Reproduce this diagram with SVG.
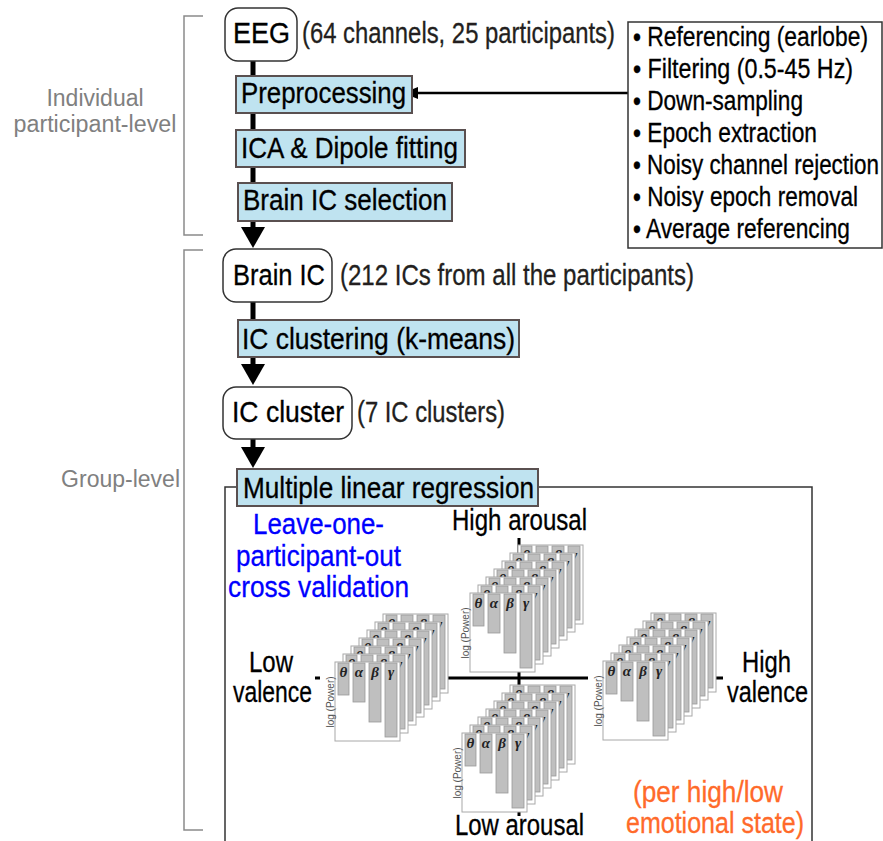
<svg xmlns="http://www.w3.org/2000/svg" xmlns:xlink="http://www.w3.org/1999/xlink" width="883" height="841" viewBox="0 0 883 841">
<style>
.t{font-family:"Liberation Sans Narrow","Liberation Sans",Arial,sans-serif;font-size:29px;fill:#000;stroke:#000;stroke-width:0.3}
.ann{fill:#231f20;stroke:#231f20}
.bul{font-size:27px}
.side{font-family:"Liberation Sans",Arial,sans-serif;font-size:23px;fill:#808080}
.blue{fill:#0000ff;stroke:#0000ff}
.orange{fill:#ff6a2a;stroke:#ff6a2a}
.rnode{fill:#fff;stroke:#333;stroke-width:1.5}
.bnode{fill:#bfe3f0;stroke:#5a5050;stroke-width:2}
.bracket{fill:none;stroke:#8a8a8a;stroke-width:1.5}
.thick{fill:none;stroke:#000;stroke-width:5}
.thin{fill:none;stroke:#000;stroke-width:2.5}
.axis{fill:none;stroke:#000;stroke-width:3}
.frame{fill:none;stroke:#333;stroke-width:1.5}
.card{fill:#fff;stroke:#a8a8a8;stroke-width:1}
.bar{fill:#bfbfbf;stroke:#9a9a9a;stroke-width:0.8}
.gr{font-family:"Liberation Serif","DejaVu Serif",serif;font-style:italic;font-weight:bold;font-size:15px;fill:#222;text-anchor:middle}
.lp{font-family:"Liberation Sans",Arial,sans-serif;font-size:10px;fill:#555;text-anchor:middle}
</style>
<defs>
<marker id="bigArrow" markerUnits="userSpaceOnUse" markerWidth="22" markerHeight="26" viewBox="0 0 22 26" refX="9" refY="13" orient="auto">
<path d="M0,1 L21,13 L0,25 z" fill="#000"/>
</marker>
<marker id="smallArrow" markerUnits="userSpaceOnUse" markerWidth="16" markerHeight="14" viewBox="0 0 16 14" refX="3" refY="7" orient="auto">
<path d="M0,1 L15,7 L0,13 z" fill="#000"/>
</marker>
<g id="card">
<rect class="card" x="0" y="0" width="65" height="79"/>
<rect class="bar" x="3" y="1" width="11" height="32"/>
<rect class="bar" x="18" y="1" width="12" height="39"/>
<rect class="bar" x="34" y="1" width="12" height="59"/>
<rect class="bar" x="50" y="1" width="12" height="74"/>
<text class="gr" x="8.5" y="15">θ</text>
<text class="gr" x="24" y="15">α</text>
<text class="gr" x="40" y="15">β</text>
<text class="gr" x="56" y="15">γ</text>
</g>
<g id="stack">
<use xlink:href="#card" x="48" y="-48"/>
<use xlink:href="#card" x="40" y="-40"/>
<use xlink:href="#card" x="32" y="-32"/>
<use xlink:href="#card" x="24" y="-24"/>
<use xlink:href="#card" x="16" y="-16"/>
<use xlink:href="#card" x="8" y="-8"/>
<rect x="-15" y="0" width="15" height="79" fill="#fff"/>
<use xlink:href="#card" x="0" y="0"/>
<text class="lp" transform="translate(-1,40) rotate(-90)">log (Power)</text>
</g>
</defs>

<rect width="883" height="841" fill="#fff"/>

<g id="level-labels">
<path class="bracket" d="M203,16 H184 V235 H203"/>
<path class="bracket" d="M203,250 H184 V830 H203"/>
<text class="side" x="95" y="106" text-anchor="middle">Individual</text>
<text class="side" x="95" y="132" text-anchor="middle" textLength="163" lengthAdjust="spacingAndGlyphs">participant-level</text>
<text class="side" x="180" y="487" text-anchor="end">Group-level</text>
</g>

<g id="regression-frame">
<rect class="frame" x="225" y="487" width="587" height="400"/>
</g>

<g id="connectors">
<path class="thick" d="M253,61 V236" marker-end="url(#bigArrow)"/>
<path class="thick" d="M253,302 V373" marker-end="url(#bigArrow)"/>
<path class="thick" d="M253,439 V456" marker-end="url(#bigArrow)"/>
<path class="thin" d="M628,93 H415" marker-end="url(#smallArrow)"/>
</g>

<g id="eeg">
<rect class="rnode" x="225" y="8" width="72" height="53" rx="13"/>
<text class="t" x="233" y="43" textLength="57" lengthAdjust="spacingAndGlyphs">EEG</text>
<text class="t ann" x="302" y="43" textLength="313" lengthAdjust="spacingAndGlyphs">(64 channels, 25 participants)</text>
</g>

<g id="preprocessing">
<rect class="bnode" x="236" y="76" width="176" height="37"/>
<text class="t" x="241" y="103" textLength="165" lengthAdjust="spacingAndGlyphs">Preprocessing</text>
</g>

<g id="preprocessing-steps">
<rect x="628" y="22" width="254" height="226" fill="#fff" stroke="#333" stroke-width="1.5"/>
<text class="t bul" x="633" y="46" textLength="235" lengthAdjust="spacingAndGlyphs">• Referencing (earlobe)</text>
<text class="t bul" x="633" y="78" textLength="220" lengthAdjust="spacingAndGlyphs">• Filtering (0.5-45 Hz)</text>
<text class="t bul" x="633" y="110" textLength="170" lengthAdjust="spacingAndGlyphs">• Down-sampling</text>
<text class="t bul" x="633" y="142" textLength="184" lengthAdjust="spacingAndGlyphs">• Epoch extraction</text>
<text class="t bul" x="633" y="174" textLength="246" lengthAdjust="spacingAndGlyphs">• Noisy channel rejection</text>
<text class="t bul" x="633" y="206" textLength="225" lengthAdjust="spacingAndGlyphs">• Noisy epoch removal</text>
<text class="t bul" x="633" y="238" textLength="217" lengthAdjust="spacingAndGlyphs">• Average referencing</text>
</g>

<g id="ica">
<rect class="bnode" x="236" y="130" width="229" height="37"/>
<text class="t" x="241" y="158" textLength="217" lengthAdjust="spacingAndGlyphs">ICA &amp; Dipole fitting</text>
</g>

<g id="brain-ic-selection">
<rect class="bnode" x="238" y="183" width="214" height="38"/>
<text class="t" x="243" y="210" textLength="204" lengthAdjust="spacingAndGlyphs">Brain IC selection</text>
</g>

<g id="brain-ic">
<rect class="rnode" x="223" y="249" width="109" height="53" rx="13"/>
<text class="t" x="233" y="285" textLength="92" lengthAdjust="spacingAndGlyphs">Brain IC</text>
<text class="t ann" x="340" y="285" textLength="354" lengthAdjust="spacingAndGlyphs">(212 ICs from all the participants)</text>
</g>

<g id="ic-clustering">
<rect class="bnode" x="238" y="320" width="281" height="37"/>
<text class="t" x="242" y="349" textLength="273" lengthAdjust="spacingAndGlyphs">IC clustering (k-means)</text>
</g>

<g id="ic-cluster">
<rect class="rnode" x="223" y="387" width="129" height="52" rx="13"/>
<text class="t" x="232" y="422" textLength="112" lengthAdjust="spacingAndGlyphs">IC cluster</text>
<text class="t ann" x="357" y="422" textLength="148" lengthAdjust="spacingAndGlyphs">(7 IC clusters)</text>
</g>

<g id="regression">
<rect class="bnode" x="237" y="469" width="301" height="37"/>
<text class="t" x="243" y="498" textLength="291" lengthAdjust="spacingAndGlyphs">Multiple linear regression</text>
</g>

<g id="cross-validation">
<text class="t blue" x="253" y="534" textLength="131" lengthAdjust="spacingAndGlyphs">Leave-one-</text>
<text class="t blue" x="236" y="566" textLength="165" lengthAdjust="spacingAndGlyphs">participant-out</text>
<text class="t blue" x="228" y="597" textLength="181" lengthAdjust="spacingAndGlyphs">cross validation</text>
</g>

<g id="axes">
<path class="axis" d="M315,678 H723"/>
<path class="axis" d="M519,538 V816"/>
</g>

<g id="high-arousal">
<text class="t" x="452" y="530" textLength="135" lengthAdjust="spacingAndGlyphs">High arousal</text>
<use xlink:href="#stack" x="470" y="593"/>
</g>
<g id="low-valence">
<text class="t" x="249" y="672" textLength="44" lengthAdjust="spacingAndGlyphs">Low</text>
<text class="t" x="233" y="702" textLength="79" lengthAdjust="spacingAndGlyphs">valence</text>
<use xlink:href="#stack" x="335" y="662"/>
</g>
<g id="high-valence">
<text class="t" x="742" y="672" textLength="49" lengthAdjust="spacingAndGlyphs">High</text>
<text class="t" x="727" y="702" textLength="81" lengthAdjust="spacingAndGlyphs">valence</text>
<use xlink:href="#stack" x="603" y="661"/>
</g>
<g id="low-arousal">
<use xlink:href="#stack" x="462" y="733"/>
<text class="t" x="455" y="835" textLength="129" lengthAdjust="spacingAndGlyphs">Low arousal</text>
</g>

<g id="state-note">
<text class="t orange" x="633" y="802" textLength="150" lengthAdjust="spacingAndGlyphs">(per high/low</text>
<text class="t orange" x="626" y="833" textLength="178" lengthAdjust="spacingAndGlyphs">emotional state)</text>
</g>
</svg>
